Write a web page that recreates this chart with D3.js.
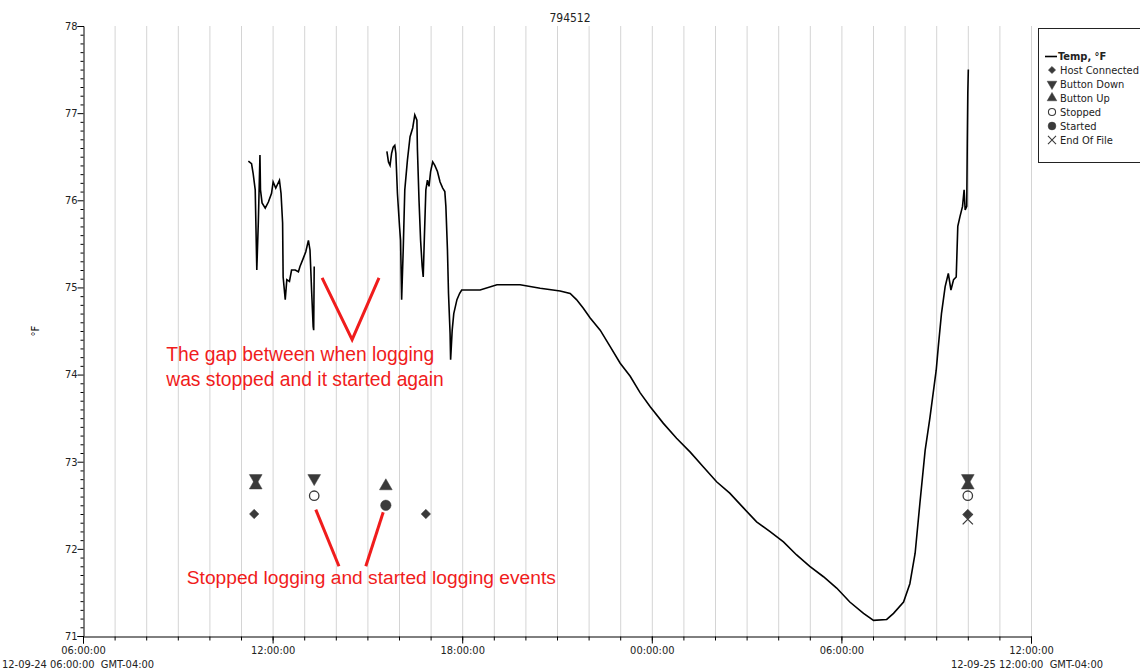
<!DOCTYPE html>
<html><head><meta charset="utf-8">
<script src="https://cdn.jsdelivr.net/npm/d3@7"></script>
<style>
body{margin:0;background:#fff;}
svg{display:block;font-family:"Liberation Sans",Arial,sans-serif;}
</style></head>
<body><svg id="c" width="1140" height="670"></svg>
<script>
// ---- data ----
const title = "794512";
const tempTimes = [
 "2012-09-24 11:14","2012-09-24 11:20","2012-09-24 11:23","2012-09-24 11:27","2012-09-24 11:30","2012-09-24 11:33","2012-09-24 11:36","2012-09-24 11:37","2012-09-24 11:40","2012-09-24 11:46","2012-09-24 11:52","2012-09-24 11:58","2012-09-24 12:01","2012-09-24 12:06","2012-09-24 12:13","2012-09-24 12:16","2012-09-24 12:19","2012-09-24 12:20","2012-09-24 12:24","2012-09-24 12:27","2012-09-24 12:32","2012-09-24 12:36","2012-09-24 12:43","2012-09-24 12:49","2012-09-24 12:52","2012-09-24 12:58","2012-09-24 13:03","2012-09-24 13:08","2012-09-24 13:11","2012-09-24 13:14","2012-09-24 13:17","2012-09-24 13:18","2012-09-24 13:19",
 "2012-09-24 14:30",
 "2012-09-24 15:37","2012-09-24 15:40","2012-09-24 15:43","2012-09-24 15:46","2012-09-24 15:49","2012-09-24 15:52","2012-09-24 15:54","2012-09-24 15:57","2012-09-24 16:01","2012-09-24 16:03","2012-09-24 16:05","2012-09-24 16:08","2012-09-24 16:11","2012-09-24 16:16","2012-09-24 16:21","2012-09-24 16:26","2012-09-24 16:30","2012-09-24 16:34","2012-09-24 16:35","2012-09-24 16:38","2012-09-24 16:41","2012-09-24 16:44","2012-09-24 16:46","2012-09-24 16:48","2012-09-24 16:51","2012-09-24 16:54","2012-09-24 16:57","2012-09-24 17:00","2012-09-24 17:04","2012-09-24 17:08","2012-09-24 17:13","2012-09-24 17:18","2012-09-24 17:23","2012-09-24 17:27","2012-09-24 17:29","2012-09-24 17:32","2012-09-24 17:34","2012-09-24 17:37","2012-09-24 17:38","2012-09-24 17:41","2012-09-24 17:44","2012-09-24 17:50","2012-09-24 17:55","2012-09-24 17:59",
 "2012-09-24 18:34","2012-09-24 19:06","2012-09-24 19:50","2012-09-24 20:28","2012-09-24 21:06","2012-09-24 21:25","2012-09-24 21:37","2012-09-24 21:50","2012-09-24 22:03","2012-09-24 22:22","2012-09-24 22:41","2012-09-24 23:00","2012-09-24 23:19","2012-09-24 23:38","2012-09-24 23:57",
 "2012-09-25 00:22","2012-09-25 00:47","2012-09-25 01:13","2012-09-25 01:38","2012-09-25 02:03","2012-09-25 02:28","2012-09-25 02:54","2012-09-25 03:19","2012-09-25 03:44","2012-09-25 04:10","2012-09-25 04:35","2012-09-25 05:00","2012-09-25 05:26","2012-09-25 05:51","2012-09-25 06:16","2012-09-25 06:42","2012-09-25 07:01","2012-09-25 07:26","2012-09-25 07:39","2012-09-25 07:58","2012-09-25 08:10","2012-09-25 08:20","2012-09-25 08:29","2012-09-25 08:39","2012-09-25 08:48","2012-09-25 09:00","2012-09-25 09:04","2012-09-25 09:10","2012-09-25 09:17","2012-09-25 09:23","2012-09-25 09:28","2012-09-25 09:33","2012-09-25 09:38","2012-09-25 09:41","2012-09-25 09:45","2012-09-25 09:50","2012-09-25 09:53","2012-09-25 09:55","2012-09-25 09:58","2012-09-25 09:59","2012-09-25 10:00","2012-09-25 10:01"
];
const tempValues = [
 76.45,76.42,76.31,76.12,75.20,75.77,76.52,76.12,75.97,75.91,75.98,76.08,76.21,76.14,76.23,76.08,75.74,75.12,74.86,75.09,75.07,75.20,75.20,75.18,75.24,75.33,75.41,75.54,75.43,74.97,74.55,74.51,75.24,
 null,
 76.56,76.44,76.40,76.54,76.61,76.63,76.54,76.08,75.70,75.54,74.86,75.43,76.12,76.46,76.73,76.83,76.98,76.92,76.58,76.00,75.54,75.24,75.12,75.54,76.12,76.23,76.16,76.33,76.44,76.40,76.33,76.21,76.14,76.10,75.93,75.43,74.93,74.47,74.17,74.51,74.70,74.86,74.93,74.97,
 74.97,75.03,75.03,74.99,74.96,74.93,74.86,74.76,74.65,74.51,74.32,74.13,73.98,73.79,73.63,
 73.44,73.27,73.11,72.94,72.77,72.64,72.47,72.31,72.20,72.08,71.93,71.80,71.68,71.55,71.39,71.26,71.18,71.19,71.26,71.39,71.60,71.95,72.52,73.13,73.50,74.05,74.32,74.70,75.01,75.16,74.97,75.09,75.12,75.70,75.81,75.93,76.12,75.89,75.93,76.65,77.23,77.50
];
// event series: [time, plotted level]
const hostConnected = [["2012-09-24 11:25",72.40],["2012-09-24 16:51",72.40],["2012-09-25 10:00",72.40]];
const buttonDown    = [["2012-09-24 11:28",72.81],["2012-09-24 13:19",72.81],["2012-09-25 10:00",72.81]];
const buttonUp      = [["2012-09-24 11:28",72.73],["2012-09-24 15:35",72.72],["2012-09-25 10:00",72.73]];
const stopped       = [["2012-09-24 13:19",72.61],["2012-09-25 10:00",72.61]];
const started       = [["2012-09-24 15:35",72.50]];
const endOfFile     = [["2012-09-25 10:00",72.34]];
const legendLabels = ["Temp, °F","Host Connected","Button Down","Button Up","Stopped","Started","End Of File"];
const yTicks = [71,72,73,74,75,76,77,78];
const xDomain = ["2012-09-24 06:00","2012-09-25 12:00"];
const xStartLabel = "12-09-24 06:00:00  GMT-04:00";
const xEndLabel = "12-09-25 12:00:00  GMT-04:00";
const yLabel = "°F";
// annotations in data units
const noteGapText = ["The gap between when logging","was stopped and it started again"];
const noteGapPos = [["2012-09-24 08:38",74.16],["2012-09-24 08:38",73.87]];
const noteGapV = [["2012-09-24 13:34",75.11],["2012-09-24 14:31",74.40],["2012-09-24 15:22",75.11]];
const noteEvText = "Stopped logging and started logging events";
const noteEvPos = ["2012-09-24 09:17",71.60];
const noteEvLines = [[["2012-09-24 13:22",72.45],["2012-09-24 14:06",71.80]],[["2012-09-24 15:30",72.42],["2012-09-24 14:57",71.80]]];

// ---- drawing ----
const parse = d3.timeParse("%Y-%m-%d %H:%M");
const svg = d3.select("#c");
const M = {l:83, r:1031, t:26, b:636};
const x = d3.scaleTime().domain(xDomain.map(parse)).range([M.l, M.r]);
const y = d3.scaleLinear().domain([71,78]).range([M.b, M.t]);
const ink = "#000", mk = "#3a3a3a", red = "#f01c1c";
const axFont = "'DejaVu Sans Condensed','DejaVu Sans',sans-serif";

// grid
const hours = d3.timeHour.range(x.domain()[0], d3.timeMinute.offset(x.domain()[1],1));
svg.append("g").selectAll("line").data(hours.slice(1)).join("line")
  .attr("x1",d=>x(d)+0.5).attr("x2",d=>x(d)+0.5).attr("y1",M.t).attr("y2",M.b)
  .attr("stroke","#d4d4d4").attr("stroke-width",1);

// y axis
const yAxis = svg.append("g").attr("transform",`translate(${M.l+0.5},0)`)
  .call(d3.axisLeft(y).tickValues(yTicks).tickSize(6).tickFormat(d3.format("d")));
const yMinor = d3.range(710,781).map(v=>v/10).filter(v=>Math.abs(v-Math.round(v))>1e-6);
svg.append("g").attr("transform",`translate(${M.l+0.5},0)`)
  .call(d3.axisLeft(y).tickValues(yMinor).tickSize(3).tickFormat(""))
  .call(g=>g.select(".domain").remove());
// x axis
const xMajor = d3.timeHour.every(6).range(x.domain()[0], d3.timeMinute.offset(x.domain()[1],1));
svg.append("g").attr("transform",`translate(0,${M.b+0.5})`)
  .call(d3.axisBottom(x).tickValues(hours).tickSize(4).tickFormat(""))
  .call(g=>g.select(".domain").remove());
const xAxis = svg.append("g").attr("transform",`translate(0,${M.b+0.5})`)
  .call(d3.axisBottom(x).tickValues(xMajor).tickSize(7).tickFormat(d3.timeFormat("%H:%M:%S")));
svg.selectAll(".tick text").attr("fill","#222").style("font-size","11px").style("font-family",axFont);
xAxis.selectAll(".tick text").attr("dy","0.55em").attr("y",11);
yAxis.selectAll(".tick text").attr("x",-6).attr("dy","0.3em");
svg.selectAll(".domain").attr("stroke",ink);

svg.append("text").attr("x",2).attr("y",668).text(xStartLabel).attr("xml:space","preserve")
  .style("white-space","pre").style("font-size","11px").style("font-family",axFont).attr("fill","#222");
svg.append("text").attr("x",1103).attr("y",668).attr("text-anchor","end").text(xEndLabel)
  .style("white-space","pre").style("font-size","11px").style("font-family",axFont).attr("fill","#222");
svg.append("text").attr("transform","translate(39,331) rotate(-90)").attr("text-anchor","middle")
  .text(yLabel).style("font-size","10px").style("font-family","'DejaVu Sans',sans-serif");
svg.append("text").attr("x",570).attr("y",22).attr("text-anchor","middle").text(title)
  .style("font-size","12px").style("font-family",axFont).attr("fill","#222");

// temperature line
const pts = tempTimes.map((t,i)=>({t:parse(t), v:tempValues[i]}));
svg.append("path").datum(pts)
  .attr("d", d3.line().defined(d=>d.v!==null).x(d=>x(d.t)).y(d=>y(d.v)))
  .attr("fill","none").attr("stroke",ink).attr("stroke-width",1.6).attr("stroke-linejoin","miter");

// event markers
function sym(data, type, size, fillMode, rot){
  svg.append("g").selectAll("path").data(data).join("path")
    .attr("transform",d=>`translate(${x(parse(d[0]))},${y(d[1])}) rotate(${rot||0})`)
    .attr("d", d3.symbol().type(type).size(size))
    .attr("fill", fillMode===1?mk:"none").attr("stroke", mk)
    .attr("stroke-width", fillMode===1?0.5:1.3);
}
sym(hostConnected, d3.symbolSquare, 44, 1, 45);
sym(buttonDown, d3.symbolTriangle, 70, 1, 180);
sym(buttonUp, d3.symbolTriangle, 70, 1, 0);
sym(stopped, d3.symbolCircle, 70, 0);
sym(started, d3.symbolCircle, 85, 1);
sym(endOfFile, d3.symbolX, 70, 0, 0);

// annotations
const noteFont = "'Liberation Sans',Arial,sans-serif";
noteGapText.forEach((s,i)=>svg.append("text").attr("x",x(parse(noteGapPos[i][0]))).attr("y",y(noteGapPos[i][1]))
  .text(s).attr("fill",red).style("font-size","19.3px").style("font-family",noteFont));
svg.append("path").datum(noteGapV)
  .attr("d", d3.line().x(d=>x(parse(d[0]))).y(d=>y(d[1])))
  .attr("fill","none").attr("stroke",red).attr("stroke-width",3);
svg.append("text").attr("x",x(parse(noteEvPos[0]))).attr("y",y(noteEvPos[1]))
  .text(noteEvText).attr("fill",red).style("font-size","19.2px").style("font-family",noteFont);
noteEvLines.forEach(l=>svg.append("path").datum(l)
  .attr("d", d3.line().x(d=>x(parse(d[0]))).y(d=>y(d[1])))
  .attr("fill","none").attr("stroke",red).attr("stroke-width",3));

// legend
const lg = svg.append("g").attr("transform","translate(1038,28)");
lg.append("rect").attr("x",0.5).attr("y",0.5).attr("width",120).attr("height",134)
  .attr("fill","#fff").attr("stroke","#222").attr("stroke-width",1);
const lgTypes = [null,[d3.symbolSquare,26,1,45],[d3.symbolTriangle,40,1,180],[d3.symbolTriangle,40,1,0],[d3.symbolCircle,40,0,0],[d3.symbolCircle,48,1,0],[d3.symbolX,44,0,0]];
legendLabels.forEach((s,i)=>{
  const yy = 28 + i*14;
  if(i===0){
    lg.append("line").attr("x1",7).attr("x2",19).attr("y1",yy+0.5).attr("y2",yy+0.5).attr("stroke",ink).attr("stroke-width",1.6);
  } else {
    const t = lgTypes[i];
    lg.append("path").attr("transform",`translate(14,${yy}) rotate(${t[3]})`)
      .attr("d", d3.symbol().type(t[0]).size(t[1]))
      .attr("fill", t[2]===1?mk:"none").attr("stroke", mk).attr("stroke-width", t[2]===1?0.5:1.1);
  }
  lg.append("text").attr("x", i===0?20:22).attr("y",yy+4).text(s)
    .style("font-size","11px").style("font-family",axFont)
    .attr("fill","#222").style("font-weight", i===0?"bold":"normal");
});
</script></body></html>
